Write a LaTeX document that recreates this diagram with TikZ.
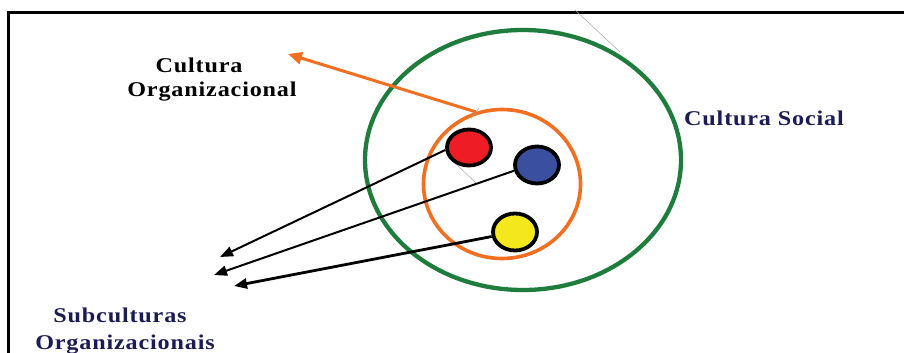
\documentclass[tikz,border=0pt]{standalone}
\usepackage{fontspec}
\setmainfont{Liberation Serif}
\newfontfamily\labelfont[LetterSpace=4,FakeStretch=1.15]{Liberation Serif}
\usetikzlibrary{shapes.geometric,arrows.meta}
\definecolor{greenring}{HTML}{1E7D3C}
\definecolor{orangering}{HTML}{F26F21}
\definecolor{dotred}{HTML}{EE1D25}
\definecolor{dotblue}{HTML}{3A4FA0}
\definecolor{dotyellow}{HTML}{F2E81C}
\definecolor{navytext}{HTML}{1C1C55}
\tikzset{
  x=1pt, y=-1pt,
  ring/.style={ellipse, draw, inner sep=0pt},
  dot/.style={ellipse, draw=black, line width=3.8pt, inner sep=0pt, minimum width=44pt, minimum height=36pt},
  lbl/.style={inner sep=0pt, anchor=base, font=\labelfont\fontsize{21}{24}\selectfont\bfseries},
  pointer/.style={draw=black, line width=2pt, -{Triangle[length=13pt,width=10pt]}},
  faint/.style={draw=gray!70, line width=0.5pt}
}
\begin{document}
\begin{tikzpicture}
\useasboundingbox (0,0) rectangle (904,353);
\fill[white] (0,0) rectangle (904,353);
% frame
\draw[line width=3pt] (8.5,354) -- (8.5,13) -- (905,13);
% rings
\node[ring, draw=greenring, line width=4.3pt, minimum width=316pt, minimum height=260pt] (social) at (523,160) {};
\node[ring, draw=orangering, line width=3.6pt, minimum width=157pt, minimum height=149pt] (org) at (502,184) {};
% faint construction lines
\coordinate (g1) at (575,10);
\coordinate (g2) at (620,52);
\draw[faint] (g1) -- (g2);
\coordinate (g3) at (479,108);
\coordinate (g4) at (471,119);
\draw[faint] (g3) -- (g4);
\coordinate (g5) at (457,165);
\coordinate (g6) at (476,183);
\draw[faint] (g5) -- (g6);
% dots
\node[dot, fill=dotred] (red) at (469,147.5) {};
\node[dot, fill=dotblue, minimum height=37pt] (blue) at (537,165) {};
\node[dot, fill=dotyellow, minimum height=37pt] (yellow) at (515,232) {};
% labels
\node[lbl, text=black] (cult) at (199,72) {Cultura};
\node[lbl, text=black] (orgname) at (212,96) {Organizacional};
\node[lbl, text=navytext] (social-lbl) at (764,125) {Cultura Social};
\node[lbl, text=navytext] (sub1) at (120,322) {Subculturas};
\node[lbl, text=navytext] (sub2) at (125,349) {Organizacionais};
% orange arrow
\coordinate (otip) at (288,54);
\draw[draw=orangering, line width=3pt, -{Triangle[length=14pt,width=12pt]}] (org.110) -- (otip);
% black arrows
\coordinate (rtip) at (220,257);
\coordinate (btip) at (214,275);
\coordinate (ytip) at (234,286);
\draw[pointer] (red.186) -- (rtip);
\draw[pointer] (blue.194) -- (btip);
\draw[pointer, line width=2.8pt] (yellow.191) -- (ytip);
\end{tikzpicture}
\end{document}
